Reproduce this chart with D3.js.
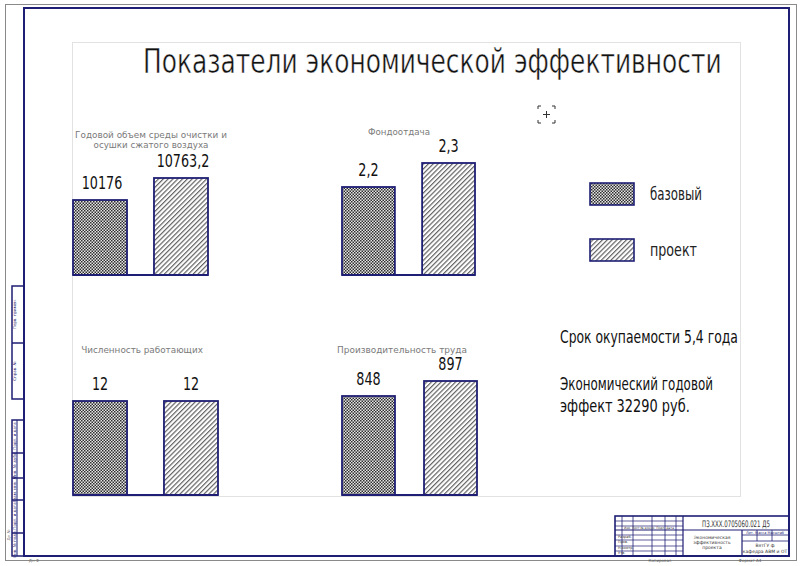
<!DOCTYPE html>
<html>
<head>
<meta charset="utf-8">
<script src="https://cdn.jsdelivr.net/npm/d3@7"></script>
<style>html,body{margin:0;padding:0;background:#fff;overflow:hidden}</style>
</head>
<body>
<svg id="chart" width="800" height="566"></svg>
<script>
// --- data ---
const chartTitle = "Показатели экономической эффективности";
const categories = [
    ["Годовой объем среды очистки и", "осушки сжатого воздуха"],
    ["Фондоотдача"],
    ["Численность работающих"],
    ["Производительность труда"]
];
const seriesNames = ["базовый", "проект"];
const baseValues = [10176, 2.2, 12, 848];
const projectValues = [10763.2, 2.3, 12, 897];
// each little chart has its own (not zero based) value axis
const yDomains = [[8175, 11377], [1.8333, 2.3333], [0, 15.32], [524.6, 916.6]];
const notes = ["Срок окупаемости 5,4 года", "Экономический годовой", "эффект 32290 руб."];

const navy = "#1e1e74";
const font = "'DejaVu Sans',sans-serif";
const svg = d3.select("#chart");

// drafting font is tall and narrow: draw at the right height, squeeze to the width seen
function condText(parent, str, x, y, size, width, anchor) {
    const t = parent.append("text").text(str)
        .attr("font-family", font).attr("font-size", size)
        .attr("text-anchor", anchor || "start");
    const w = t.node().getComputedTextLength();
    const sx = w > 0 ? width / w : 1;
    t.attr("transform", `translate(${x},${y}) scale(${sx},1)`);
    return t;
}

// patterns
const defs = svg.append("defs");
const dots = defs.append("pattern").attr("id", "dots")
    .attr("width", 3).attr("height", 3).attr("patternUnits", "userSpaceOnUse");
dots.append("rect").attr("width", 3).attr("height", 3).attr("fill", "#e6e6e6");
dots.append("rect").attr("width", 1.5).attr("height", 1.5).attr("fill", "#2e2e2e");
dots.append("rect").attr("x", 1.5).attr("y", 1.5).attr("width", 1.5).attr("height", 1.5).attr("fill", "#2e2e2e");
const hatch = defs.append("pattern").attr("id", "hatch")
    .attr("width", 3.4).attr("height", 3.4).attr("patternUnits", "userSpaceOnUse")
    .attr("patternTransform", "rotate(45)");
hatch.append("rect").attr("width", 3.4).attr("height", 3.4).attr("fill", "#fff");
hatch.append("line").attr("x1", 0.6).attr("y1", 0).attr("x2", 0.6).attr("y2", 3.4)
    .attr("stroke", "#626262").attr("stroke-width", 1.2);
const fills = ["url(#dots)", "url(#hatch)"];

// sheet borders
svg.append("rect").attr("x", 5.5).attr("y", 4.5).attr("width", 791).attr("height", 556)
    .attr("fill", "none").attr("stroke", "#8a8a8a").attr("stroke-width", 1);
svg.append("rect").attr("x", 24).attr("y", 8).attr("width", 765).attr("height", 548)
    .attr("fill", "none").attr("stroke", navy).attr("stroke-width", 2);
// plot area
svg.append("rect").attr("x", 72.5).attr("y", 42.5).attr("width", 668).attr("height", 454)
    .attr("fill", "none").attr("stroke", "#e2e2e2").attr("stroke-width", 1);

// title
condText(svg, chartTitle, 143, 73, 34, 579)
    .attr("fill", "#111").attr("stroke", "#fff").attr("stroke-width", 0.5);

// --- the four small bar charts ---
const panels = [
    {x0: 73, x1: 208, base: 275, pad: 0.333, tx: 151, ty: 137.5, tw: [152, 115]},
    {x0: 342, x1: 475, base: 275, pad: 0.34, tx: 399, ty: 135, tw: [62]},
    {x0: 73, x1: 218, base: 495, pad: 0.406, tx: 142, ty: 353, tw: [122]},
    {x0: 342, x1: 477, base: 495, pad: 0.354, tx: 402, ty: 353, tw: [130]}
];
const panelH = 120;
const fmt = v => String(v).replace(".", ",");

panels.forEach((p, i) => {
    const g = svg.append("g");
    const x = d3.scaleBand().domain(seriesNames).range([p.x0, p.x1])
        .paddingInner(p.pad).paddingOuter(0);
    const y = d3.scaleLinear().domain(yDomains[i]).range([p.base, p.base - panelH]);
    const vals = [baseValues[i], projectValues[i]];

    // category caption
    categories[i].forEach((line, k) => {
        condText(g, line, p.tx, p.ty + k * 10.8, 9.5, p.tw[k], "middle").attr("fill", "#7a7a7a");
    });

    g.selectAll("rect.bar").data(vals).join("rect")
        .attr("class", "bar")
        .attr("x", (d, j) => x(seriesNames[j]))
        .attr("y", d => y(d))
        .attr("width", x.bandwidth())
        .attr("height", d => p.base - y(d))
        .attr("fill", (d, j) => fills[j])
        .attr("stroke", navy).attr("stroke-width", 1.8);

    // base line
    g.append("line")
        .attr("x1", p.x0).attr("x2", p.x1).attr("y1", p.base).attr("y2", p.base)
        .attr("stroke", navy).attr("stroke-width", 1.8);

    g.selectAll("text.val").data(vals).join("text")
        .attr("class", "val")
        .text(d => fmt(d))
        .attr("transform", (d, j) => `translate(${x(seriesNames[j]) + x.bandwidth() / 2 + (i === 0 ? 2 : 0)},${y(d) - 11}) scale(0.75,1)`)
        .attr("text-anchor", "middle")
        .attr("font-family", font).attr("font-size", 17)
        .attr("fill", "#111");
});

// legend
const legend = svg.append("g");
const legendW = [52, 47];
seriesNames.forEach((s, j) => {
    legend.append("rect")
        .attr("x", 590).attr("y", 183 + j * 56).attr("width", 44).attr("height", 22)
        .attr("fill", fills[j]).attr("stroke", navy).attr("stroke-width", 1.6);
    condText(legend, s, 650, 200 + j * 56, 18, legendW[j]).attr("fill", "#222");
});

// cursor mark
const cm = svg.append("g").attr("stroke", "#333").attr("stroke-width", 1).attr("fill", "none");
cm.append("path").attr("d", "M538,109 V106 H541 M552,106 H555 V109 M555,120 V123 H552 M541,123 H538 V120");
cm.append("path").attr("d", "M543,114.5 H550 M546.5,111 V118");

// notes on the right
[[notes[0], 343, 178], [notes[1], 390, 153], [notes[2], 412, 130]].forEach(n => {
    condText(svg, n[0], 560, n[1], 18, n[2]).attr("fill", "#111");
});

// --- drawing frame furniture: side strip and title block ---
const side = svg.append("g").attr("stroke", navy).attr("stroke-width", 1.5).attr("fill", "none");
side.append("rect").attr("x", 12).attr("y", 286).attr("width", 12).attr("height", 113);
side.append("line").attr("x1", 12).attr("x2", 24).attr("y1", 343).attr("y2", 343);
side.append("rect").attr("x", 12).attr("y", 420).attr("width", 12).attr("height", 136);
side.append("line").attr("x1", 17).attr("x2", 17).attr("y1", 420).attr("y2", 556).attr("stroke-width", 1);
[453, 478, 500, 533].forEach(yy => side.append("line").attr("x1", 12).attr("x2", 24).attr("y1", yy).attr("y2", yy));
[["Перв. примен.", 314], ["Справ. №", 371], ["Подп. и дата", 436], ["Инв. № дубл.", 465], ["Взам. инв. №", 489], ["Подп. и дата", 516], ["Инв. № подл.", 544]]
    .forEach(t => svg.append("text").text(t[0])
        .attr("transform", `translate(16,${t[1]}) rotate(-90)`)
        .attr("text-anchor", "middle").attr("font-family", font).attr("font-size", 4)
        .attr("fill", navy));

const tb = svg.append("g").attr("stroke", navy).attr("stroke-width", 1.2).attr("fill", "none");
tb.append("rect").attr("x", 615).attr("y", 516).attr("width", 174).attr("height", 40).attr("stroke-width", 1.6);
tb.append("line").attr("x1", 615).attr("x2", 789).attr("y1", 530).attr("y2", 530);
[622, 633, 652, 665, 676].forEach(xx => tb.append("line").attr("x1", xx).attr("x2", xx).attr("y1", 516).attr("y2", 556).attr("stroke-width", 0.8));
tb.append("line").attr("x1", 683).attr("x2", 683).attr("y1", 516).attr("y2", 556);
tb.append("line").attr("x1", 742).attr("x2", 742).attr("y1", 530).attr("y2", 556);
[521, 526, 535, 540, 546, 551].forEach(yy => tb.append("line").attr("x1", 615).attr("x2", 683).attr("y1", yy).attr("y2", yy).attr("stroke-width", 0.7));
[535, 541].forEach(yy => tb.append("line").attr("x1", 742).attr("x2", 789).attr("y1", yy).attr("y2", yy).attr("stroke-width", 0.8));
[757, 772].forEach(xx => tb.append("line").attr("x1", xx).attr("x2", xx).attr("y1", 530).attr("y2", 541).attr("stroke-width", 0.8));

const small = (t, xx, yy, size, color, anchor) => svg.append("text").text(t)
    .attr("x", xx).attr("y", yy).attr("text-anchor", anchor || "middle")
    .attr("font-family", font).attr("font-size", size).attr("fill", color || navy);
condText(svg, "ПЗ.ХХХ.0705060.021 Д5", 736, 527, 9, 68, "middle").attr("fill", "#333");
small("Экономическая", 712, 539, 4.5, "#333");
small("эффективность", 712, 544, 4.5, "#333");
small("проекта", 712, 549, 4.5, "#333");
small("Лит.   Масса   Масштаб", 765, 534, 3.5);
small("ВятГУ ф", 765, 547, 4.5, "#333");
small("кафедра АВМ и ОТ", 765, 553, 4.5, "#333");
small("Изм. Лист  № докум.  Подп. Дата", 649, 529, 3, "#333");
small("Разраб.", 618, 538, 3.5, "#333", "start");
small("Пров.", 618, 543, 3.5, "#333", "start");
small("Н.контр.", 618, 549, 3.5, "#333", "start");
small("Утв.", 618, 554, 3.5, "#333", "start");
small("Копировал", 660, 562, 4, "#555");
small("Формат А4", 750, 562, 4, "#555");
small("Дн Ф", 34, 562, 4, "#777");
svg.append("text").text("Дн №")
    .attr("transform", "translate(10,535) rotate(-90)")
    .attr("text-anchor", "middle").attr("font-family", font).attr("font-size", 4).attr("fill", "#777");
</script>
</body>
</html>
